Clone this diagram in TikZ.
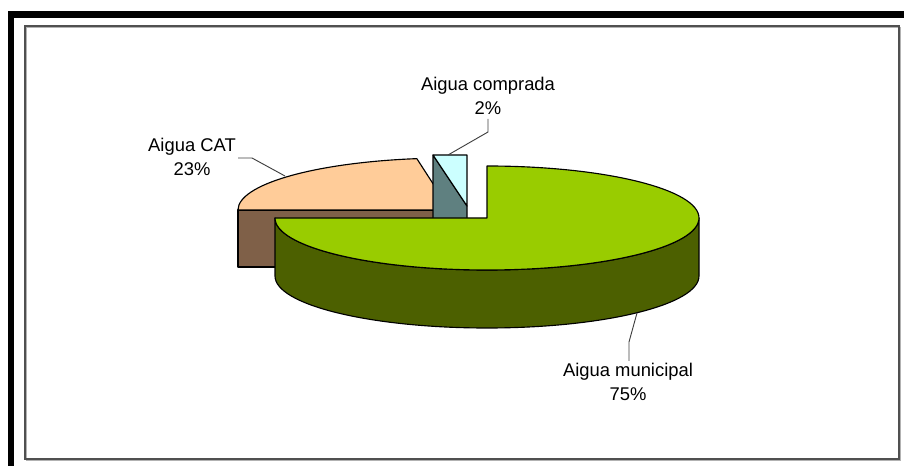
\documentclass[tikz,border=0pt]{standalone}
\usepackage{fontspec}
\setmainfont{Liberation Sans}
\definecolor{peach}{HTML}{FFCC99}
\definecolor{catside}{HTML}{7F6048}
\definecolor{mtop}{HTML}{99CC00}
\definecolor{mside}{HTML}{4C6000}
\definecolor{ctop}{HTML}{CCFFFF}
\definecolor{cside}{HTML}{5F8080}
\definecolor{framegray}{HTML}{505050}
\definecolor{leadgray}{HTML}{404040}
\tikzset{
  slice/.style={draw=black, line width=0.85pt, line join=round},
  lbl/.style={align=center, font=\fontsize{13.8}{18}\selectfont, inner sep=0pt},
  leader/.style={draw=leadgray, line width=0.7pt},
}
\begin{document}
\begin{tikzpicture}[x=0.75pt,y=-0.75pt]
\useasboundingbox (0,0) rectangle (904,466);
% outer thick frame
\fill[black] (8,11) rectangle (904,18);
\fill[black] (8,11) rectangle (14,466);
% inner chart frame
\draw[gray!60, line width=0.9pt] (26.5,27.5) rectangle (900.5,460.5);
\draw[framegray, line width=1pt] (25,26) rectangle (899,459);
% Aigua CAT slice
\draw[slice, fill=catside] (238,210) rectangle (450,267);
\draw[slice, fill=peach] (238,210) arc[start angle=180, end angle=261, x radius=212, y radius=52] -- (450,210) -- cycle;
% Aigua comprada slice
\draw[slice, fill=cside] (433,155) -- (467,206) -- (467,226) -- (433,226) -- cycle;
\draw[slice, fill=ctop] (433,155) -- (467,155) -- (467,206) -- cycle;
% Aigua municipal slice
\draw[slice, fill=mside] (275,218) -- (275,276) arc[start angle=180, end angle=0, x radius=212, y radius=52] -- (699,218) arc[start angle=0, end angle=180, x radius=212, y radius=52] -- cycle;
\draw[slice, fill=mtop] (487,166) arc[start angle=-90, end angle=180, x radius=212, y radius=52] -- (487,218) -- cycle;
% labels
\node[lbl] (cat) at (192,157) {Aigua CAT\\23\%};
\node[lbl] (comp) at (488,96) {Aigua comprada\\2\%};
\node[lbl] (mun) at (628,382) {Aigua municipal\\75\%};
% leader lines
\coordinate (catp) at (285,176);
\coordinate (compp) at (448,155);
\coordinate (munp) at (637,313);
\draw[leader] (cat.east |- 0,158) ++(2,0) -- (252,158) -- (catp);
\draw[leader] (comp.south) ++(0,4) -- (488,132) -- (compp);
\draw[leader] (mun.north) ++(1,-2) -- (629,342) -- (munp);
\end{tikzpicture}
\end{document}
